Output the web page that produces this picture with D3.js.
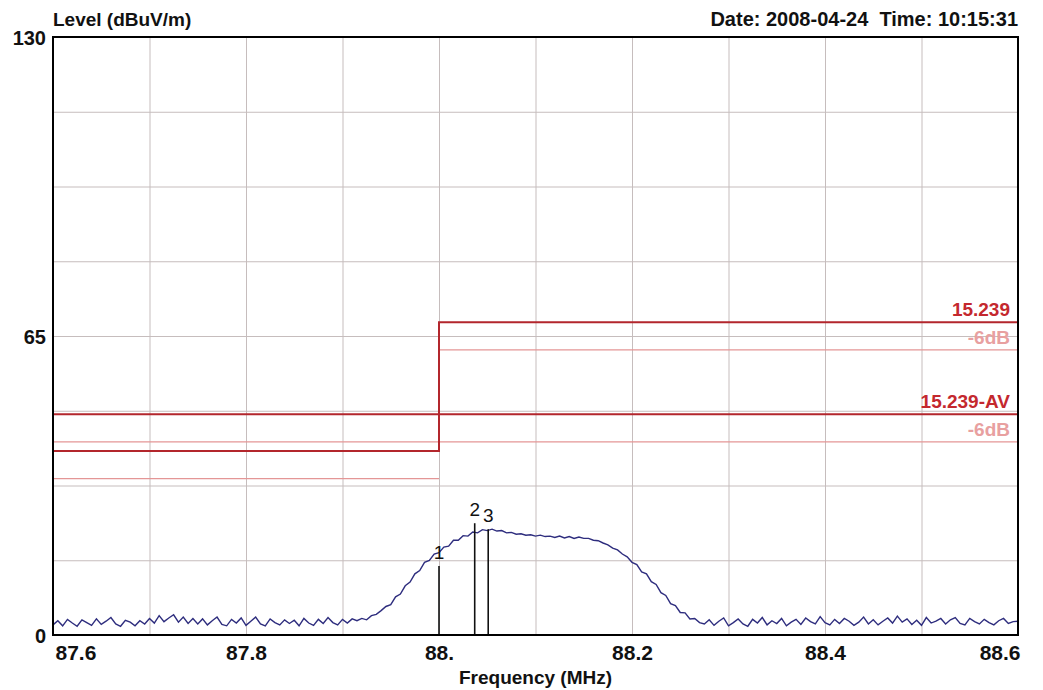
<!DOCTYPE html>
<html>
<head>
<meta charset="utf-8">
<script src="https://cdn.jsdelivr.net/npm/d3@7"></script>
<style>
  html, body { margin: 0; padding: 0; background: #fff; overflow: hidden; }
  svg { display: block; }
  text { font-family: "Liberation Sans", Arial, sans-serif; }
</style>
</head>
<body>
<div id="chart"></div>
<script>
// sweep: 87.6 MHz to 88.6 MHz, one reading every 5 kHz
const traceStart = 87.6;
const traceStep = 0.005;
const traceLevels = [
  2.2,3.1,2.0,3.4,2.6,1.9,3.3,2.7,2.1,3.5,
  2.3,3.0,3.8,2.4,1.9,3.2,2.8,2.0,3.1,2.4,
  3.6,2.6,4.2,2.9,3.7,4.4,2.8,3.9,2.5,3.6,
  2.4,3.5,2.2,3.1,3.9,2.3,2.0,3.4,2.6,3.7,
  2.1,3.0,3.9,2.4,2.0,3.5,2.7,2.2,3.3,2.5,
  3.2,2.0,3.6,2.6,2.1,3.4,2.5,3.8,2.7,2.2,
  3.4,2.6,3.5,3.1,3.6,3.3,4.2,4.5,5.3,
  6.2,6.6,8.3,8.9,10.7,11.5,13.3,14.0,15.8,16.2,17.6,17.9,
  19.1,19.3,20.6,20.6,21.6,21.5,22.4,22.2,22.9,22.7,
  23.0,22.6,22.7,22.2,22.3,21.9,22.0,21.7,21.8,21.5,
  21.7,21.4,21.5,21.2,21.5,21.1,21.4,21.0,21.3,21.0,
  21.0,20.6,20.5,20.0,19.6,18.9,18.5,17.6,17.0,15.8,
  15.3,13.7,13.3,11.6,11.0,9.2,8.6,6.8,6.4,4.9,
  4.8,3.5,3.6,2.7,
  2.4,3.3,2.1,3.0,3.7,2.0,2.7,3.5,2.4,1.9,
  3.4,2.6,3.8,2.2,3.1,2.5,3.6,2.0,2.8,3.4,
  2.3,3.7,2.9,2.4,4.0,2.7,2.2,3.4,2.5,3.6,
  3.0,2.1,2.8,3.9,2.4,3.3,2.2,3.0,3.7,2.6,
  4.1,2.8,3.5,2.3,3.2,2.1,3.8,2.6,3.0,3.6,
  2.4,3.3,3.8,2.5,2.2,3.6,2.9,2.4,3.4,2.7,
  2.2,3.1,3.6,2.5,2.9,3.0
];

// limit lines [freq, level]
const limitQP = [[87.6, 40], [88.0, 40], [88.0, 68], [88.6, 68]];
const limitQP6dB = [[[87.6, 34], [88.0, 34]], [[88.0, 62], [88.6, 62]]];
const limitAV = [[87.6, 48], [88.6, 48]];
const limitAV6dB = [[87.6, 42], [88.6, 42]];

const markerNames = ["1", "2", "3"];
const markerFreqs = [88.000, 88.037, 88.051];
const markerLevels = [15.0, 24.3, 23.0];

const xTickValues = [87.6, 87.8, 88.0, 88.2, 88.4, 88.6];
const xTickLabels = ["87.6", "87.8", "88.", "88.2", "88.4", "88.6"];
const xGridValues = [87.7, 87.8, 87.9, 88.0, 88.1, 88.2, 88.3, 88.4, 88.5];
const yTickValues = [0, 65, 130];
const yGridValues = [16.25, 32.5, 48.75, 65, 81.25, 97.5, 113.75];

const width = 1043, height = 690;
const margin = {top: 37, right: 25, bottom: 55, left: 53};
const innerWidth = width - margin.left - margin.right;
const innerHeight = height - margin.top - margin.bottom;

const svg = d3.select("#chart")
    .append("svg")
    .attr("width", width)
    .attr("height", height);

const g = svg.append("g")
    .attr("transform", `translate(${margin.left},${margin.top})`);

const x = d3.scaleLinear().domain([87.6, 88.6]).range([0, innerWidth]);
const y = d3.scaleLinear().domain([0, 130]).range([innerHeight, 0]);

// grid
g.append("g")
    .attr("class", "x-grid")
    .call(d3.axisBottom(x).tickValues(xGridValues).tickSize(innerHeight).tickFormat(""))
    .call(a => a.select(".domain").remove())
    .selectAll("line")
    .attr("stroke", "#c6bdbd");

g.append("g")
    .attr("class", "y-grid")
    .call(d3.axisLeft(y).tickValues(yGridValues).tickSize(-innerWidth).tickFormat(""))
    .call(a => a.select(".domain").remove())
    .selectAll("line")
    .attr("stroke", "#c6bdbd");

// limits
const lineGen = d3.line()
    .x(d => x(d[0]))
    .y(d => y(d[1]));

const weakLimits = [limitAV6dB].concat(limitQP6dB);
g.selectAll(".limit-6db")
    .data(weakLimits)
    .join("path")
    .attr("class", "limit-6db")
    .attr("d", lineGen)
    .attr("fill", "none")
    .attr("stroke", "#e49696")
    .attr("stroke-width", 1.3);

g.selectAll(".limit")
    .data([limitQP, limitAV])
    .join("path")
    .attr("class", "limit")
    .attr("d", lineGen)
    .attr("fill", "none")
    .attr("stroke", "#b3262c")
    .attr("stroke-width", 2);

// limit labels
const limitLabels = [
    {text: "15.239", level: 68, color: "#c4282e"},
    {text: "-6dB", level: 62, color: "#e8a0a0"},
    {text: "15.239-AV", level: 48, color: "#c4282e"},
    {text: "-6dB", level: 42, color: "#e8a0a0"}
];
g.selectAll(".limit-label")
    .data(limitLabels)
    .join("text")
    .attr("class", "limit-label")
    .attr("x", innerWidth - 8)
    .attr("y", d => y(d.level) - 6)
    .attr("text-anchor", "end")
    .style("font-size", "19px")
    .style("font-weight", "bold")
    .style("fill", d => d.color)
    .text(d => d.text);

// trace
const trace = traceLevels.map((v, i) => ({f: traceStart + i * traceStep, v: v}));
g.append("path")
    .datum(trace)
    .attr("class", "trace")
    .attr("d", d3.line().x(d => x(d.f)).y(d => y(d.v)))
    .attr("fill", "none")
    .attr("stroke", "#2e2d7e")
    .attr("stroke-width", 1.4);

// markers
const markers = markerNames.map((n, i) => ({name: n, f: markerFreqs[i], v: markerLevels[i]}));
g.selectAll(".marker")
    .data(markers)
    .join("line")
    .attr("class", "marker")
    .attr("x1", d => x(d.f))
    .attr("x2", d => x(d.f))
    .attr("y1", d => y(d.v))
    .attr("y2", innerHeight)
    .attr("stroke", "#111")
    .attr("stroke-width", 1.6);

g.selectAll(".marker-label")
    .data(markers)
    .join("text")
    .attr("class", "marker-label")
    .attr("x", d => x(d.f))
    .attr("y", d => y(d.v) - 7)
    .attr("text-anchor", "middle")
    .style("font-size", "19px")
    .style("fill", "#111")
    .text(d => d.name);

// frame
g.append("rect")
    .attr("width", innerWidth)
    .attr("height", innerHeight)
    .attr("fill", "none")
    .attr("stroke", "#000")
    .attr("stroke-width", 2);

// x tick labels
const xAxis = g.append("g")
    .attr("class", "x-axis")
    .attr("transform", `translate(0,${innerHeight})`)
    .call(d3.axisBottom(x).tickValues(xTickValues).tickSize(0).tickPadding(10)
        .tickFormat((d, i) => xTickLabels[i]));
xAxis.select(".domain").remove();
xAxis.selectAll("text")
    .attr("dy", "0.71em")
    .style("font-family", "'Liberation Sans', Arial, sans-serif")
    .style("font-size", "21px")
    .style("font-weight", "bold")
    .style("fill", "#111")
    .attr("text-anchor", (d, i) => i === 0 ? "start" : (i === xTickValues.length - 1 ? "end" : "middle"))
    .attr("x", (d, i) => i === 0 ? 2 : (i === xTickValues.length - 1 ? 2 : 0));

// y tick labels
g.selectAll(".y-label")
    .data(yTickValues)
    .join("text")
    .attr("class", "y-label")
    .attr("x", -7)
    .attr("y", d => y(d) + 8)
    .attr("text-anchor", "end")
    .style("font-size", "20px")
    .style("font-weight", "bold")
    .style("fill", "#111")
    .text(d => d);

// titles
svg.append("text")
    .attr("x", margin.left)
    .attr("y", 26)
    .style("font-size", "19px")
    .style("font-weight", "bold")
    .style("fill", "#111")
    .text("Level (dBuV/m)");

svg.append("text")
    .attr("x", margin.left + innerWidth)
    .attr("y", 26)
    .attr("text-anchor", "end")
    .style("font-size", "20px")
    .style("font-weight", "bold")
    .style("fill", "#111")
    .text("Date: 2008-04-24\u00a0\u00a0Time: 10:15:31");

svg.append("text")
    .attr("x", margin.left + innerWidth / 2)
    .attr("y", 684)
    .attr("text-anchor", "middle")
    .style("font-size", "19px")
    .style("font-weight", "bold")
    .style("fill", "#111")
    .text("Frequency (MHz)");
</script>
</body>
</html>
